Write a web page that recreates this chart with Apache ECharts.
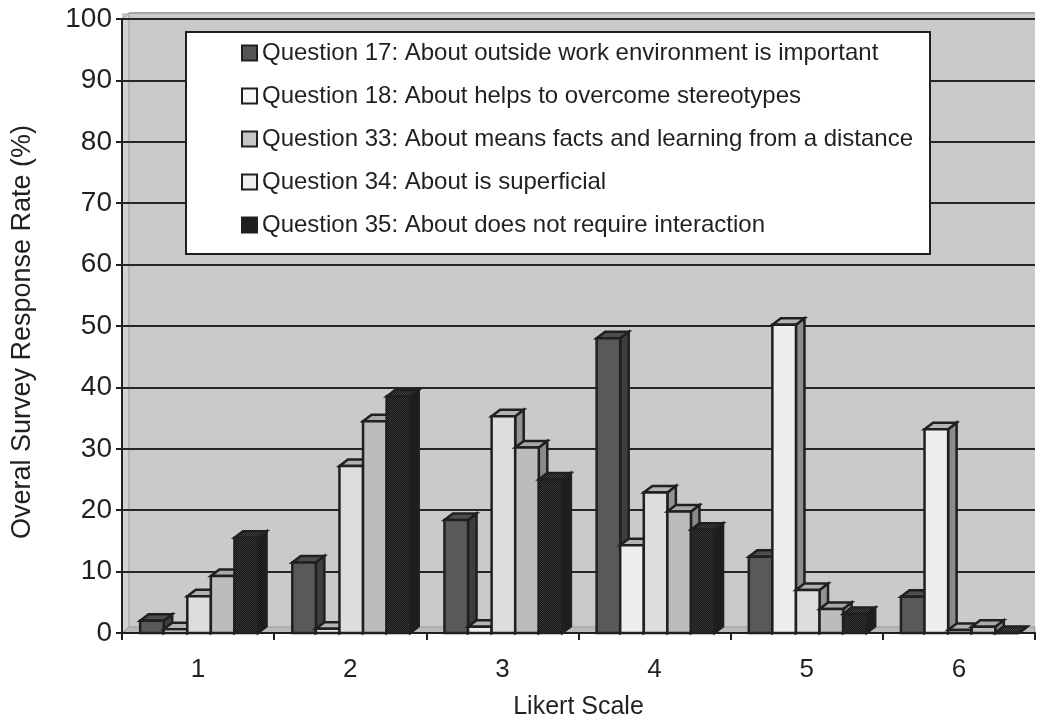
<!DOCTYPE html>
<html>
<head>
<meta charset="utf-8">
<script src="https://cdn.jsdelivr.net/npm/echarts@6/dist/echarts.min.js"></script>
<style>
  html, body { margin: 0; padding: 0; background: #ffffff; }
  #chart { width: 1037px; height: 719px; }
</style>
</head>
<body>
<div id="chart"></div>
<script>
// Likert scale categories and response rates (%) per survey question
const categories = ['1', '2', '3', '4', '5', '6'];
const seriesNames = [
  'Question 17: About outside work environment is important',
  'Question 18: About helps to overcome stereotypes',
  'Question 33: About means facts and learning from a distance',
  'Question 34: About is superficial',
  'Question 35: About does not require interaction'
];
const q17 = [2, 11.5, 18.4, 48, 12.4, 5.9];
const q18 = [0.6, 0.7, 1, 14.3, 50.2, 33.2];
const q33 = [6, 27.2, 35.3, 22.9, 7, 0.5];
const q34 = [9.3, 34.5, 30.2, 19.8, 3.9, 1];
const q35 = [15.5, 38.5, 25, 16.8, 3.1, 0];
const yMin = 0, yMax = 100, yStep = 10;

const FONT = '"Liberation Sans", Arial, sans-serif';
const INK = '#231f20';

// small dotted texture for the darkest columns
function texture(base, dot) {
  const cv = document.createElement('canvas');
  cv.width = 2; cv.height = 2;
  const g = cv.getContext('2d');
  g.fillStyle = base; g.fillRect(0, 0, 2, 2);
  g.fillStyle = dot; g.fillRect(0, 0, 1, 1); g.fillRect(1, 1, 1, 1);
  return { image: cv, repeat: 'repeat' };
}

// face shading of each column: front, right side, top
const faces = [
  { front: '#58595b', side: '#3d3e40', top: '#4c4d4f' },
  { front: '#eeeeef', side: '#8c8c8c', top: '#b4b4b4' },
  { front: '#dcdddd', side: '#929292', top: '#b2b2b2' },
  { front: '#bbbcbc', side: '#8a8a8a', top: '#a9a9a9' },
  { front: texture('#141414', '#3a3a3a'), side: texture('#101010', '#2c2c2c'), top: texture('#1a1a1a', '#444444') }
];
const legendColors = ['#555658', '#f7f7f7', '#c6c6c6', '#efefef', '#1f1f1f'];

const DX = 8.5, DY = 6.5, BAR_FRAC = 0.155;

function renderColumn(params, api) {
  const s = params.seriesIndex;
  const ci = api.value(0);
  const v = api.value(1);
  const base = api.coord([ci, 0]);
  const top = api.coord([ci, v]);
  const band = api.size([1, 0])[0];
  const w = band * BAR_FRAC;
  const x0 = base[0] + 1 + (s - 2.5) * w;
  const x1 = x0 + w;
  const yb = base[1], yt = top[1];
  const f = faces[s];
  const line = { stroke: INK, lineWidth: 2.5, lineJoin: 'miter' };
  return {
    type: 'group',
    children: [
      { type: 'polygon', shape: { points: [[x1, yb], [x1 + DX, yb - DY], [x1 + DX, yt - DY], [x1, yt]] },
        style: Object.assign({ fill: f.side }, line) },
      { type: 'polygon', shape: { points: [[x0, yt], [x0 + DX, yt - DY], [x1 + DX, yt - DY], [x1, yt]] },
        style: Object.assign({ fill: f.top }, line) },
      { type: 'rect', shape: { x: x0, y: yt, width: w, height: yb - yt },
        style: Object.assign({ fill: f.front }, line) }
    ]
  };
}

const allValues = [q17, q18, q33, q34, q35];
const series = allValues.map((vals, s) => ({
  name: seriesNames[s],
  type: 'custom',
  z: 2,
  renderItem: renderColumn,
  itemStyle: { color: legendColors[s] },
  encode: { x: 0, y: 1 },
  data: vals.map((v, i) => [i, v])
}));

const chart = echarts.init(document.getElementById('chart'), null, { renderer: 'canvas' });
chart.setOption({
  animation: false,
  textStyle: { fontFamily: FONT },
  grid: { left: 122, right: 2, top: 19, bottom: 86, containLabel: false, outerBoundsMode: 'none' },
  graphic: [
    // back wall
    { type: 'rect', z: 0, shape: { x: 122, y: 13, width: 913, height: 620 },
      style: { fill: '#c9cacc' } },
    { type: 'line', z: 0, shape: { x1: 129, y1: 13, x2: 1035, y2: 13 },
      style: { stroke: '#a6a6a6', lineWidth: 2 } },
    // side wall
    { type: 'polygon', z: 0, shape: { points: [[122, 633], [122, 19], [129, 13], [129, 627]] },
      style: { fill: '#d2d3d4', stroke: '#9c9c9c', lineWidth: 1 } },
    // floor
    { type: 'polygon', z: 0, shape: { points: [[122, 633], [129, 627], [1035, 627], [1035, 633]] },
      style: { fill: '#b9babb', stroke: '#9c9c9c', lineWidth: 1 } },
    // legend frame
    { type: 'rect', z: 5, shape: { x: 186, y: 32, width: 744, height: 222 },
      style: { fill: '#ffffff', stroke: INK, lineWidth: 2 } }
  ],
  legend: {
    z: 6,
    orient: 'vertical',
    left: 241,
    top: 41,
    padding: 0,
    itemGap: 19,
    itemWidth: 15,
    itemHeight: 15,
    icon: 'rect',
    selectedMode: false,
    textStyle: { fontFamily: FONT, fontSize: 24, lineHeight: 24, color: INK },
    data: seriesNames.map((n, s) => ({
      name: n,
      itemStyle: { color: legendColors[s], borderColor: INK, borderWidth: 2 }
    }))
  },
  xAxis: {
    type: 'category',
    data: categories,
    z: 1,
    name: 'Likert Scale',
    nameLocation: 'middle',
    nameGap: 62,
    nameTextStyle: { fontFamily: FONT, fontSize: 25, color: INK },
    axisLine: { lineStyle: { color: INK, width: 2 } },
    axisTick: { show: true, alignWithLabel: false, length: 7, lineStyle: { color: INK, width: 2 } },
    axisLabel: { margin: 24, fontFamily: FONT, fontSize: 26, color: INK },
    splitLine: { show: false }
  },
  yAxis: {
    type: 'value',
    min: yMin,
    max: yMax,
    interval: yStep,
    z: 1,
    name: 'Overal Survey Response Rate (%)',
    nameLocation: 'middle',
    nameGap: 86,
    nameTextStyle: { fontFamily: FONT, fontSize: 27, color: INK, padding: [0, 12, 0, 0] },
    axisLine: { show: true, lineStyle: { color: INK, width: 2 } },
    axisTick: { show: true, length: 6, lineStyle: { color: INK, width: 2 } },
    axisLabel: { margin: 10, fontFamily: FONT, fontSize: 28, color: INK },
    splitLine: { show: true, lineStyle: { color: '#262626', width: 2 } }
  },
  series: series
});
</script>
</body>
</html>
